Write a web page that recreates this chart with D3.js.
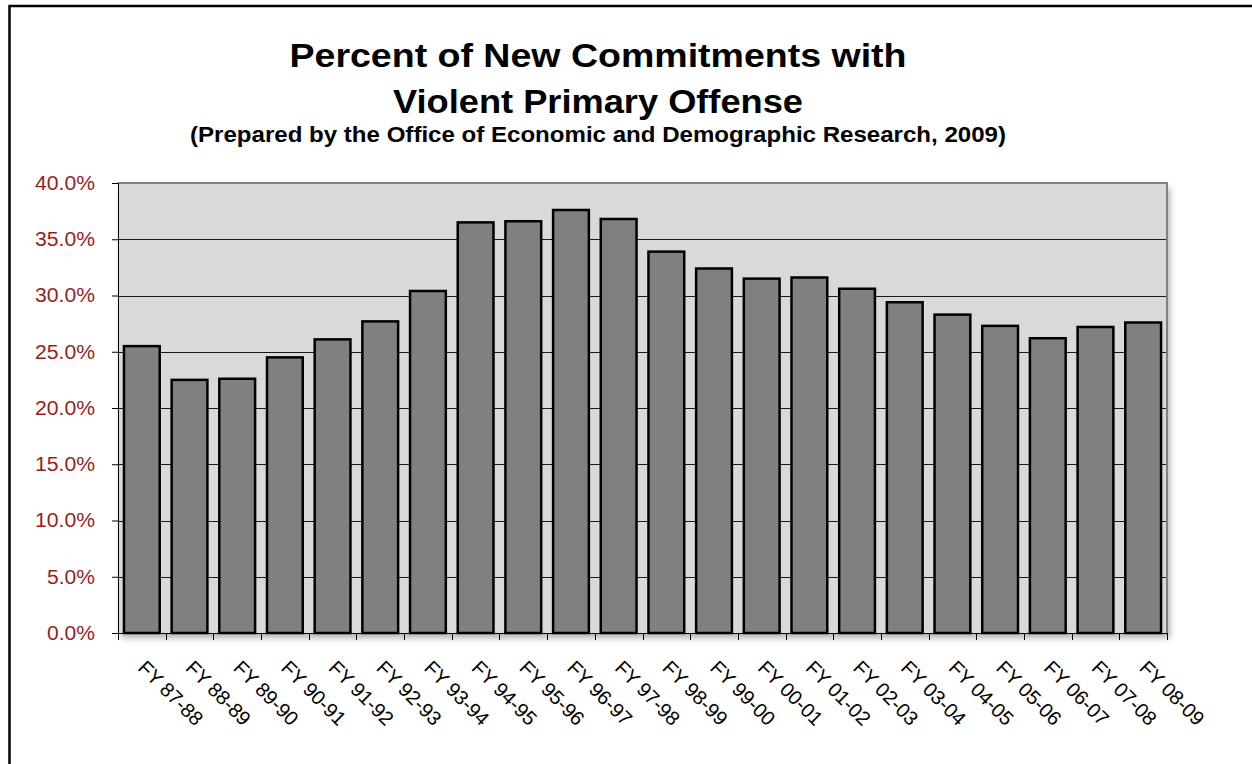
<!DOCTYPE html>
<html>
<head>
<meta charset="utf-8">
<script src="https://cdn.jsdelivr.net/npm/d3@7"></script>
<style>
  body { margin: 0; background: #fff; }
  svg { display: block; font-family: "Liberation Sans", Arial, sans-serif; }
</style>
</head>
<body>
<svg id="chart" width="1252" height="764"></svg>
<script>
// fiscal years and share of new commitments with a violent primary offense (%)
var years = ['FY 87-88', 'FY 88-89', 'FY 89-90', 'FY 90-91', 'FY 91-92', 'FY 92-93',
    'FY 93-94', 'FY 94-95', 'FY 95-96', 'FY 96-97', 'FY 97-98', 'FY 98-99',
    'FY 99-00', 'FY 00-01', 'FY 01-02', 'FY 02-03', 'FY 03-04', 'FY 04-05',
    'FY 05-06', 'FY 06-07', 'FY 07-08', 'FY 08-09'];
var pctViolent = [25.5, 22.5, 22.6, 24.5, 26.1, 27.7, 30.4, 36.5, 36.6, 37.6, 36.8,
    33.9, 32.4, 31.5, 31.6, 30.6, 29.4, 28.3, 27.3, 26.2, 27.2, 27.6];
var yTicks = [0, 5, 10, 15, 20, 25, 30, 35, 40];

var titleLines = ['Percent of New Commitments with', 'Violent Primary Offense'];
var subTitle = '(Prepared by the Office of Economic and Demographic Research, 2009)';

var svg = d3.select('#chart');
var plot = {l: 118, t: 183, r: 1167, b: 633};

var defs = svg.append('defs');
var shadow = defs.append('filter').attr('id', 'shadow')
    .attr('x', '-5%').attr('y', '-5%').attr('width', '110%').attr('height', '112%');
shadow.append('feDropShadow')
    .attr('dx', 3).attr('dy', 5)
    .attr('stdDeviation', 3)
    .attr('flood-color', '#000')
    .attr('flood-opacity', 0.3);

// outer chart border (cropped at right and bottom)
svg.append('rect')
    .attr('x', 9.5).attr('y', 6)
    .attr('width', 1400).attr('height', 900)
    .style('fill', 'none')
    .style('stroke', '#000')
    .style('stroke-width', 2.5);

// titles
svg.append('text')
    .attr('x', 598).attr('y', 67)
    .attr('text-anchor', 'middle')
    .attr('textLength', 617).attr('lengthAdjust', 'spacingAndGlyphs')
    .style('font-size', '34px').style('font-weight', 'bold')
    .text(titleLines[0]);
svg.append('text')
    .attr('x', 598).attr('y', 113)
    .attr('text-anchor', 'middle')
    .attr('textLength', 410).attr('lengthAdjust', 'spacingAndGlyphs')
    .style('font-size', '34px').style('font-weight', 'bold')
    .text(titleLines[1]);
svg.append('text')
    .attr('x', 598).attr('y', 142)
    .attr('text-anchor', 'middle')
    .attr('textLength', 816).attr('lengthAdjust', 'spacingAndGlyphs')
    .style('font-size', '22px').style('font-weight', 'bold')
    .text(subTitle);

var x = d3.scaleBand()
    .domain(years)
    .range([plot.l, plot.r])
    .paddingInner(0.25)
    .paddingOuter(0.125);

var y = d3.scaleLinear()
    .domain([0, 40])
    .range([plot.b, plot.t]);

// plot background with shadow
svg.append('rect')
    .attr('x', plot.l).attr('y', plot.t)
    .attr('width', plot.r - plot.l).attr('height', plot.b - plot.t)
    .style('fill', '#d9d9d9')
    .attr('filter', 'url(#shadow)');

// gridlines
svg.append('g')
    .selectAll('line')
    .data(yTicks.slice(1, -1))
    .enter()
    .append('line')
    .attr('x1', plot.l).attr('x2', plot.r)
    .attr('y1', function (d) { return Math.round(y(d)) + 0.5; })
    .attr('y2', function (d) { return Math.round(y(d)) + 0.5; })
    .style('stroke', '#1a1a1a')
    .style('stroke-width', 1);

// plot border top / right
svg.append('path')
    .attr('d', 'M' + plot.l + ',' + plot.t + 'H' + plot.r + 'V' + plot.b)
    .style('fill', 'none')
    .style('stroke', '#808080')
    .style('stroke-width', 2);

// bars
svg.append('g')
    .selectAll('rect')
    .data(years)
    .enter()
    .append('rect')
    .attr('x', function (d) { return x(d); })
    .attr('y', function (d, i) { return y(pctViolent[i]); })
    .attr('width', x.bandwidth())
    .attr('height', function (d, i) { return y(0) - y(pctViolent[i]); })
    .style('fill', '#808080')
    .style('stroke', '#000')
    .style('stroke-width', 2.5);

// y axis
var yAxis = svg.append('g')
    .attr('transform', 'translate(' + plot.l + ',0)')
    .call(d3.axisLeft(y)
        .tickValues(yTicks)
        .tickSize(6)
        .tickPadding(17)
        .tickFormat(function (d) { return d.toFixed(1) + '%'; }));
yAxis.select('.domain').style('stroke', '#000');
yAxis.selectAll('.tick line').style('stroke', '#000');
yAxis.selectAll('text')
    .attr('textLength', function (d) { return d < 10 ? 48 : 60; })
    .attr('lengthAdjust', 'spacingAndGlyphs')
    .style('font-size', '20px')
    .style('fill', '#961e1e')
    .style('font-family', '"Liberation Sans", Arial, sans-serif');

// x axis: ticks between categories
var step = x.step();
var bounds = d3.range(years.length + 1).map(function (i) { return plot.l + i * step; });
svg.append('line')
    .attr('x1', plot.l).attr('x2', plot.r)
    .attr('y1', plot.b + 0.5).attr('y2', plot.b + 0.5)
    .style('stroke', '#000');
svg.append('g')
    .selectAll('line')
    .data(bounds)
    .enter()
    .append('line')
    .attr('x1', function (d) { return Math.round(d) + 0.5; })
    .attr('x2', function (d) { return Math.round(d) + 0.5; })
    .attr('y1', plot.b).attr('y2', plot.b + 7)
    .style('stroke', '#000');

svg.append('g')
    .selectAll('text')
    .data(years)
    .enter()
    .append('text')
    .attr('transform', function (d) {
        return 'translate(' + [x(d) + x.bandwidth() / 2 - 5, 669] + ') rotate(45)';
    })
    .attr('text-anchor', 'start')
    .style('font-size', '20px')
    .style('fill', '#000')
    .text(function (d) { return d; });
</script>
</body>
</html>
